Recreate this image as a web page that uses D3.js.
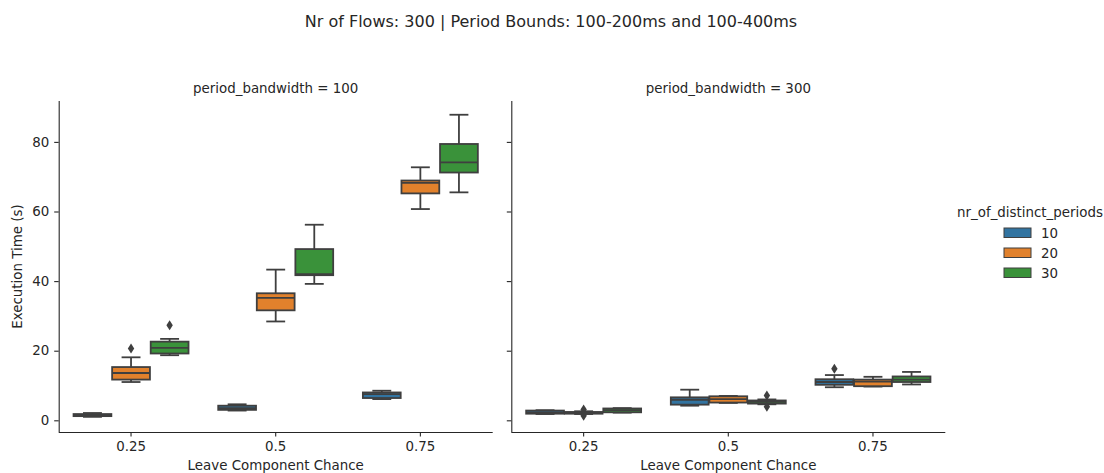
<!DOCTYPE html>
<html>
<head>
<meta charset="utf-8">
<script src="https://cdn.jsdelivr.net/npm/d3@7"></script>
<style>
  body { margin: 0; background: #fff; }
  text { font-family: "DejaVu Sans", sans-serif; fill: #262626; }
</style>
</head>
<body>
<div id="chart"></div>
<script>
const categories = ["0.25", "0.5", "0.75"]
const hues = ["10", "20", "30"]
const panels = ["100", "300"]
const yTicks = [0, 20, 40, 60, 80]

// box stats per panel, category, hue: [whisker low, q1, median, q3, whisker high]
const bw100_p10 = [[1.0, 1.2, 1.5, 1.8, 2.1], [2.8, 3.0, 3.5, 4.2, 4.6], [6.1, 6.4, 7.5, 8.0, 8.5]]
const bw100_p20 = [[11.0, 11.7, 13.6, 15.3, 18.1], [28.4, 31.6, 35.2, 36.5, 43.3], [60.7, 65.2, 68.2, 68.9, 72.7]]
const bw100_p30 = [[18.7, 19.2, 20.8, 22.6, 23.4], [39.2, 41.7, 42.0, 49.2, 56.2], [65.5, 71.2, 74.1, 79.4, 87.8]]
const bw300_p10 = [[1.8, 1.9, 2.3, 2.8, 2.9], [4.2, 4.5, 5.9, 6.6, 8.8], [9.5, 10.2, 11.0, 11.8, 13.0]]
const bw300_p20 = [[1.8, 1.9, 2.1, 2.4, 2.6], [5.0, 5.1, 6.1, 6.9, 7.0], [9.7, 9.8, 11.1, 11.7, 12.5]]
const bw300_p30 = [[2.2, 2.3, 2.9, 3.4, 3.5], [4.6, 4.8, 5.3, 5.7, 6.0], [10.3, 11.0, 11.7, 12.6, 13.9]]

// outliers: [panel, category, hue, value]
const outliers = [
  ["100", "0.25", "20", 20.6], ["100", "0.25", "30", 27.3],
  ["300", "0.25", "20", 3.1], ["300", "0.25", "20", 1.3],
  ["300", "0.5", "30", 7.1], ["300", "0.5", "30", 3.9],
  ["300", "0.75", "10", 14.8]
]

const stats = {
  "100": { "10": bw100_p10, "20": bw100_p20, "30": bw100_p30 },
  "300": { "10": bw300_p10, "20": bw300_p20, "30": bw300_p30 }
}

const colors = { "10": "#3274a1", "20": "#e1812c", "30": "#3a923a" }
const lineColor = "#3f3f3f"

const width = 1104, height = 473
const panelLeft = { "100": 58.7, "300": 511.3 }
const panelWidth = 434
const plotTop = 101, plotBottom = 432
const fs = "13.4px"

const svg = d3.select("#chart").append("svg")
  .attr("width", width).attr("height", height)

svg.append("text")
  .attr("x", 551).attr("y", 27)
  .attr("text-anchor", "middle")
  .attr("font-size", "16px")
  .text("Nr of Flows: 300 | Period Bounds: 100-200ms and 100-400ms")

const y = d3.scaleLinear().domain([-3.36, 91.75]).range([plotBottom, plotTop])

panels.forEach((p, pi) => {
  const x = d3.scaleBand().domain(categories)
    .range([panelLeft[p], panelLeft[p] + panelWidth]).padding(0)
  const xh = d3.scaleBand().domain(hues)
    .range([x.bandwidth() * 0.1, x.bandwidth() * 0.9])
  const g = svg.append("g")

  // facet title
  g.append("text")
    .attr("x", panelLeft[p] + panelWidth / 2).attr("y", 93)
    .attr("text-anchor", "middle")
    .attr("font-size", fs)
    .text("period_bandwidth = " + p)

  // axes
  const xAxis = g.append("g")
    .attr("transform", `translate(0,${plotBottom})`)
    .call(d3.axisBottom(x).tickSize(4.5).tickPadding(5))
  const yAxis = g.append("g")
    .attr("transform", `translate(${panelLeft[p]},0)`)
    .call(d3.axisLeft(y).tickValues(yTicks).tickSize(4.5).tickPadding(5)
      .tickFormat(pi === 0 ? d3.format("d") : () => ""))
  ;[xAxis, yAxis].forEach(a => {
    a.select(".domain").attr("stroke", "#262626").attr("stroke-width", 1.1)
      .attr("d", a === xAxis
        ? `M${panelLeft[p]},0.5H${panelLeft[p] + panelWidth}`
        : `M0.5,${plotTop}V${plotBottom}`)
    a.selectAll(".tick line").attr("stroke", "#262626").attr("stroke-width", 1.1)
    a.selectAll(".tick text").attr("font-size", fs).attr("font-family", "DejaVu Sans")
      .attr("fill", "#262626")
  })

  g.append("text")
    .attr("x", panelLeft[p] + panelWidth / 2).attr("y", 470)
    .attr("text-anchor", "middle")
    .attr("font-size", fs)
    .text("Leave Component Chance")

  // boxes
  const boxW = xh.bandwidth() * 0.98
  categories.forEach((c, ci) => {
    hues.forEach(h => {
      const [lo, q1, med, q3, hi] = stats[p][h][ci]
      const cx = x(c) + xh(h) + xh.bandwidth() / 2
      const bg = g.append("g").attr("stroke", lineColor).attr("stroke-width", 1.8)
      bg.append("line").attr("x1", cx).attr("x2", cx).attr("y1", y(hi)).attr("y2", y(q3))
      bg.append("line").attr("x1", cx).attr("x2", cx).attr("y1", y(lo)).attr("y2", y(q1))
      bg.append("line").attr("x1", cx - boxW / 4).attr("x2", cx + boxW / 4).attr("y1", y(hi)).attr("y2", y(hi))
      bg.append("line").attr("x1", cx - boxW / 4).attr("x2", cx + boxW / 4).attr("y1", y(lo)).attr("y2", y(lo))
      bg.append("rect")
        .attr("x", cx - boxW / 2).attr("width", boxW)
        .attr("y", y(q3)).attr("height", Math.max(0.5, y(q1) - y(q3)))
        .attr("fill", colors[h])
      bg.append("line").attr("x1", cx - boxW / 2).attr("x2", cx + boxW / 2).attr("y1", y(med)).attr("y2", y(med))
    })
  })

  // fliers
  g.selectAll("path.flier")
    .data(outliers.filter(o => o[0] === p))
    .join("path")
    .attr("class", "flier")
    .attr("transform", o => `translate(${x(o[1]) + xh(o[2]) + xh.bandwidth() / 2},${y(o[3])})`)
    .attr("d", "M0,-5L3.2,0L0,5L-3.2,0Z")
    .attr("fill", lineColor)
})

svg.append("text")
  .attr("transform", `translate(22,${(plotTop + plotBottom) / 2}) rotate(-90)`)
  .attr("text-anchor", "middle")
  .attr("font-size", fs)
  .text("Execution Time (s)")

// legend
const legend = svg.append("g")
legend.append("text")
  .attr("x", 1030).attr("y", 217)
  .attr("text-anchor", "middle")
  .attr("font-size", fs)
  .text("nr_of_distinct_periods")
hues.forEach((h, i) => {
  legend.append("rect")
    .attr("x", 1004).attr("y", 228 + i * 20).attr("width", 27).attr("height", 9.5)
    .attr("fill", colors[h]).attr("stroke", lineColor).attr("stroke-width", 1)
  legend.append("text")
    .attr("x", 1041).attr("y", 238 + i * 20)
    .attr("font-size", fs)
    .text(h)
})
</script>
</body>
</html>
